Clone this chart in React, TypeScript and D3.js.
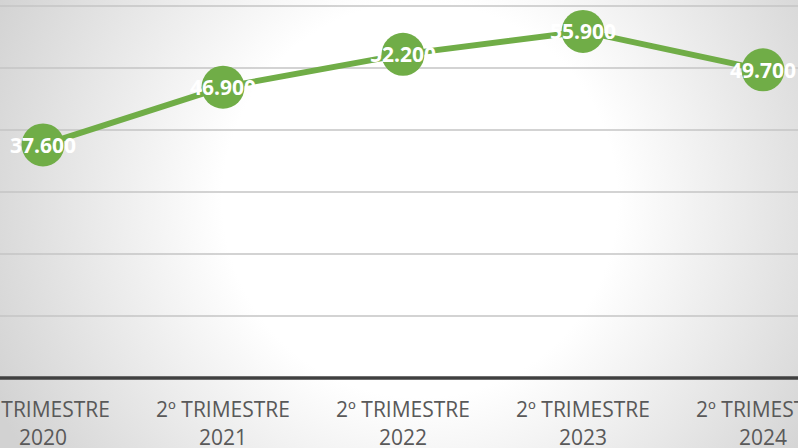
import React from "react";
import * as d3 from "d3";

const categories = ["2º TRIMESTRE 2020", "2º TRIMESTRE 2021", "2º TRIMESTRE 2022", "2º TRIMESTRE 2023", "2º TRIMESTRE 2024"];
const catLine1 = ["2º TRIMESTRE", "2º TRIMESTRE", "2º TRIMESTRE", "2º TRIMESTRE", "2º TRIMESTRE"];
const catLine2 = ["2020", "2021", "2022", "2023", "2024"];
const values = [37600, 46900, 52200, 55900, 49700];
const yTicks = [0, 10000, 20000, 30000, 40000, 50000, 60000];

const W = 798;
const H = 448;

export default function App() {
  const x = d3.scaleBand<string>().domain(categories).range([-47, 853]);
  const y = d3.scaleLinear().domain([0, 60000]).range([378, 6]);
  const cx = (c: string) => (x(c) as number) + x.bandwidth() / 2;
  const line = d3
    .line<number>()
    .x((_, i) => cx(categories[i]))
    .y((d) => y(d));
  const fmt = (v: number) => d3.format(",")(v).replace(/,/g, ".");

  return (
    <svg width={W} height={H} style={{ position: "absolute", left: 0, top: 0 }}>
      <defs>
        <radialGradient id="bg" gradientUnits="userSpaceOnUse" cx={420} cy={200} r={470}>
          <stop offset="0" stopColor="#ffffff" />
          <stop offset="0.42" stopColor="#ffffff" />
          <stop offset="1" stopColor="#d2d2d2" />
        </radialGradient>
      </defs>
      <rect x={0} y={0} width={W} height={H} fill="url(#bg)" />
      {yTicks.slice(1).map((t) => (
        <line key={t} x1={0} x2={W} y1={y(t)} y2={y(t)} stroke="#c4c4c4" strokeWidth={1.5} />
      ))}
      <line x1={0} x2={W} y1={y(0)} y2={y(0)} stroke="#404040" strokeWidth={3.5} />
      {categories.map((c, i) => (
        <text
          key={c}
          x={cx(c)}
          textAnchor="middle"
          fill="#595959"
          style={{ fontFamily: "'Open Sans'", fontSize: 21 }}
        >
          <tspan x={cx(c)} y={417}>{catLine1[i]}</tspan>
          <tspan x={cx(c)} y={445}>{catLine2[i]}</tspan>
        </text>
      ))}
      <path d={line(values) || ""} fill="none" stroke="#70ad47" strokeWidth={6} strokeLinejoin="round" />
      {values.map((v, i) => (
        <circle key={i} cx={cx(categories[i])} cy={y(v)} r={21.5} fill="#70ad47" />
      ))}
      {values.map((v, i) => (
        <text
          key={"l" + i}
          x={cx(categories[i])}
          y={y(v) + 8}
          textAnchor="middle"
          fill="#ffffff"
          style={{ fontFamily: "'Open Sans'", fontSize: 21, fontWeight: 700 }}
        >
          {fmt(v)}
        </text>
      ))}
    </svg>
  );
}
